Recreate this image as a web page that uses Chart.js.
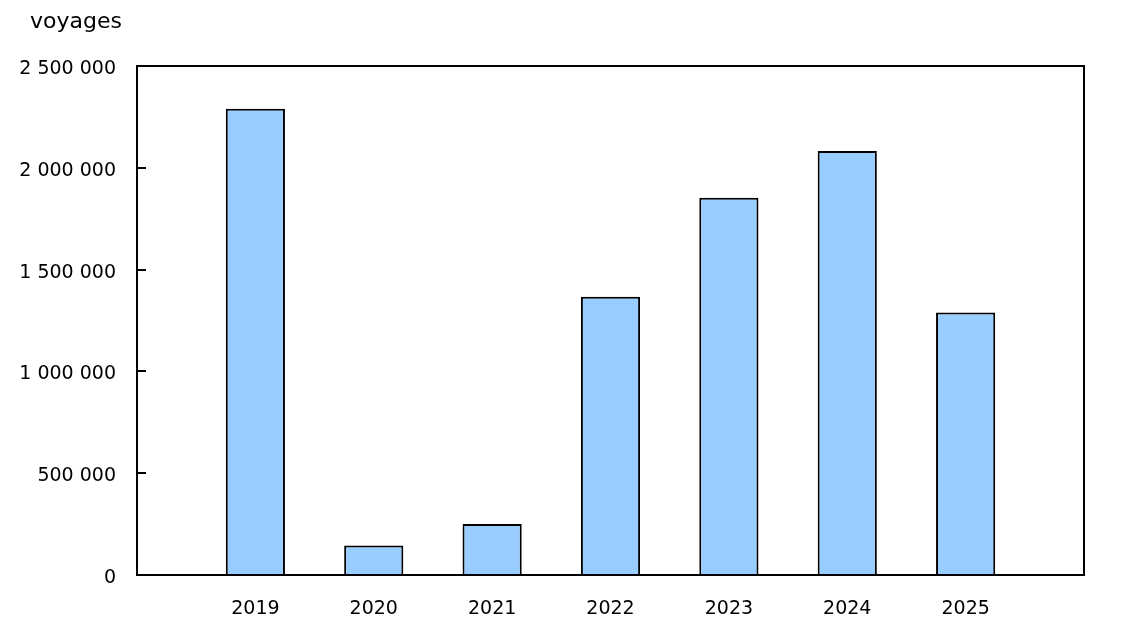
<!DOCTYPE html>
<html>
<head>
<meta charset="utf-8">
<script src="https://cdn.jsdelivr.net/npm/chart.js@4"></script>
<style>
  html, body { margin: 0; padding: 0; background: #ffffff; }
  #wrap { width: 1124px; height: 634px; position: relative; }
</style>
</head>
<body>
<div id="wrap"><canvas id="c" width="1124" height="634"></canvas></div>
<script>
const unitLabel = 'voyages';
const categories = ['2019', '2020', '2021', '2022', '2023', '2024', '2025'];
const trips = [2290000, 145000, 250000, 1367000, 1853000, 2083000, 1289000];
const yTicks = [0, 500000, 1000000, 1500000, 2000000, 2500000];

const labels = [''].concat(categories, ['']);
const values = [null].concat(trips, [null]);

function fmt(v) {
  return String(v).replace(/\B(?=(\d{3})+(?!\d))/g, ' ');
}

const FONT = 'DejaVu Sans, Verdana, sans-serif';

const boxPlugin = {
  id: 'box',
  afterDatasetsDraw(chart) {
    const a = chart.chartArea;
    const ctx = chart.ctx;
    ctx.save();
    ctx.strokeStyle = '#000000';
    ctx.lineWidth = 2;
    ctx.strokeRect(a.left, a.top, a.right - a.left, a.bottom - a.top);
    ctx.restore();
  },
  afterDraw(chart) {
    const ctx = chart.ctx;
    ctx.save();
    ctx.fillStyle = '#000000';
    ctx.font = '22px ' + FONT;
    ctx.textAlign = 'left';
    ctx.textBaseline = 'alphabetic';
    ctx.fillText(unitLabel, 30, 28);
    ctx.restore();
  }
};

new Chart(document.getElementById('c'), {
  type: 'bar',
  data: {
    labels: labels,
    datasets: [{
      data: values,
      backgroundColor: '#99CCFF',
      borderColor: '#000000',
      borderWidth: 2,
      categoryPercentage: 1,
      barPercentage: 0.5
    }]
  },
  options: {
    responsive: false,
    animation: false,
    devicePixelRatio: 1,
    layout: { padding: { top: 66, right: 40, left: 0, bottom: 0 } },
    plugins: {
      legend: { display: false },
      tooltip: { enabled: false },
      title: { display: false }
    },
    scales: {
      x: {
        offset: false,
        grid: { display: false, drawTicks: false },
        border: { display: false },
        ticks: {
          color: '#000000',
          font: { family: FONT, size: 19 },
          padding: 23,
          maxRotation: 0,
          autoSkip: false
        },
        afterFit(scale) { scale.height = 59; }
      },
      y: {
        min: 0,
        max: 2500000,
        afterBuildTicks(scale) { scale.ticks = yTicks.map(v => ({ value: v })); },
        grid: {
          drawOnChartArea: false,
          drawTicks: true,
          tickLength: -9,
          color: '#000000',
          lineWidth: 2
        },
        border: { display: false },
        ticks: {
          color: '#000000',
          font: { family: FONT, size: 19 },
          padding: 30,
          labelOffset: 3,
          callback: (v) => fmt(v)
        },
        afterFit(scale) { scale.width = 137; }
      }
    }
  },
  plugins: [boxPlugin]
});
</script>
</body>
</html>
